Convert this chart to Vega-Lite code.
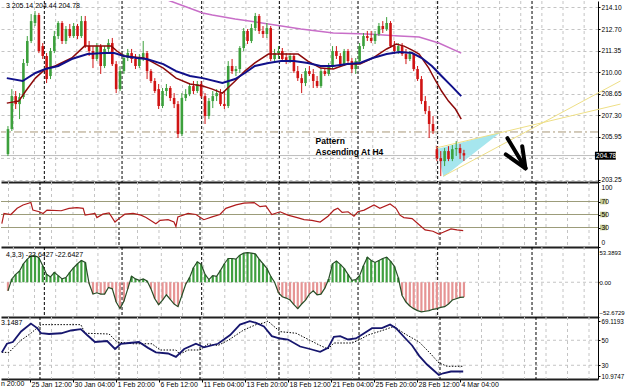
{
"$schema":"https://vega.github.io/schema/vega-lite/v6.json",
"padding":0,
"background":"white",
"spacing":0,
"bounds":"flush",
"config":{"view":{"stroke":null},"axis":{"labelFont":"Liberation Sans","labelFontSize":7,"labelColor":"#000","domainColor":"#000","tickColor":"#000","labelOverlap":false,"grid":false}},
"datasets":{
"vgrid":[{"i":1.40},{"i":6.87},{"i":12.34},{"i":17.81},{"i":23.28},{"i":28.75},{"i":34.22},{"i":39.69},{"i":45.17},{"i":50.64},{"i":56.11},{"i":61.58},{"i":67.05},{"i":72.52},{"i":77.99},{"i":83.46},{"i":88.93},{"i":94.40},{"i":99.87},{"i":105.34},{"i":110.81},{"i":116.28},{"i":121.76},{"i":127.23},{"i":132.70},{"i":138.17},{"i":143.64},{"i":149.11}],
"sep":[{"i":9.41},{"i":29.52},{"i":50.13},{"i":70.23},{"i":90.59},{"i":111.2},{"i":135.62}],
"bars":[
{"i":0,"o":204.87,"h":206.63,"l":204.75,"c":206.44,"osc":-13},
{"i":1,"o":206.44,"h":208.95,"l":206.32,"c":208.51,"osc":5},
{"i":2,"o":208.51,"h":208.83,"l":207.70,"c":208.01,"osc":12},
{"i":3,"o":208.01,"h":208.70,"l":207.07,"c":208.45,"osc":17},
{"i":4,"o":208.45,"h":210.84,"l":208.33,"c":210.59,"osc":28},
{"i":5,"o":210.59,"h":212.28,"l":210.40,"c":211.97,"osc":35},
{"i":6,"o":211.97,"h":213.66,"l":211.84,"c":213.22,"osc":40},
{"i":7,"o":213.10,"h":213.85,"l":212.91,"c":213.60,"osc":40},
{"i":8,"o":213.60,"h":213.73,"l":211.21,"c":211.34,"osc":37},
{"i":9,"o":211.65,"h":211.84,"l":210.84,"c":211.03,"osc":25},
{"i":10,"o":211.03,"h":211.21,"l":209.33,"c":209.58,"osc":12},
{"i":11,"o":209.77,"h":211.53,"l":209.58,"c":211.34,"osc":8},
{"i":12,"o":211.34,"h":212.60,"l":211.21,"c":212.28,"osc":15},
{"i":13,"o":212.28,"h":213.22,"l":212.09,"c":213.10,"osc":10},
{"i":14,"o":213.10,"h":213.22,"l":211.78,"c":211.97,"osc":5},
{"i":15,"o":211.97,"h":212.91,"l":211.78,"c":212.72,"osc":7},
{"i":16,"o":212.72,"h":213.04,"l":212.16,"c":212.28,"osc":15},
{"i":17,"o":212.28,"h":213.10,"l":212.16,"c":212.91,"osc":22},
{"i":18,"o":212.91,"h":213.04,"l":212.09,"c":212.28,"osc":28},
{"i":19,"o":212.28,"h":213.54,"l":212.16,"c":213.22,"osc":33},
{"i":20,"o":213.22,"h":213.54,"l":211.53,"c":211.65,"osc":30},
{"i":21,"o":211.65,"h":211.97,"l":211.03,"c":211.34,"osc":-2},
{"i":22,"o":211.34,"h":211.65,"l":210.27,"c":210.84,"osc":-18},
{"i":23,"o":210.84,"h":211.84,"l":210.71,"c":211.65,"osc":-16},
{"i":24,"o":211.65,"h":211.78,"l":209.90,"c":210.40,"osc":-18},
{"i":25,"o":210.40,"h":211.65,"l":210.27,"c":211.47,"osc":-18},
{"i":26,"o":211.47,"h":212.09,"l":211.21,"c":211.84,"osc":-8},
{"i":27,"o":211.84,"h":212.16,"l":210.40,"c":210.52,"osc":-10},
{"i":28,"o":210.52,"h":210.71,"l":208.70,"c":208.95,"osc":-30},
{"i":29,"o":208.95,"h":210.40,"l":208.83,"c":210.08,"osc":-40},
{"i":30,"o":210.08,"h":211.15,"l":209.90,"c":210.90,"osc":-29},
{"i":31,"o":210.90,"h":211.47,"l":210.71,"c":211.21,"osc":-10},
{"i":32,"o":211.21,"h":211.47,"l":210.59,"c":210.84,"osc":9},
{"i":33,"o":210.84,"h":211.15,"l":210.21,"c":210.40,"osc":5},
{"i":34,"o":210.40,"h":211.15,"l":210.27,"c":210.90,"osc":3},
{"i":35,"o":210.90,"h":211.97,"l":210.71,"c":211.21,"osc":5},
{"i":36,"o":211.21,"h":211.34,"l":209.58,"c":210.08,"osc":2},
{"i":37,"o":210.08,"h":210.21,"l":209.33,"c":209.46,"osc":-10},
{"i":38,"o":209.46,"h":209.64,"l":208.70,"c":208.83,"osc":-25},
{"i":39,"o":208.95,"h":209.27,"l":207.70,"c":207.89,"osc":-34},
{"i":40,"o":207.89,"h":209.02,"l":207.76,"c":208.83,"osc":-27},
{"i":41,"o":208.83,"h":209.27,"l":208.51,"c":209.02,"osc":-19},
{"i":42,"o":209.02,"h":209.14,"l":208.20,"c":208.39,"osc":-26},
{"i":43,"o":208.39,"h":208.70,"l":207.76,"c":208.01,"osc":-33},
{"i":44,"o":208.01,"h":208.20,"l":205.88,"c":206.13,"osc":-37},
{"i":45,"o":206.13,"h":208.70,"l":206.00,"c":208.39,"osc":-20},
{"i":46,"o":208.39,"h":208.95,"l":208.20,"c":208.64,"osc":-3},
{"i":47,"o":208.64,"h":209.27,"l":208.51,"c":209.14,"osc":7},
{"i":48,"o":209.14,"h":209.46,"l":208.64,"c":208.83,"osc":22},
{"i":49,"o":208.83,"h":209.46,"l":208.70,"c":209.27,"osc":31},
{"i":50,"o":209.27,"h":209.46,"l":208.39,"c":208.51,"osc":27},
{"i":51,"o":208.51,"h":208.70,"l":206.76,"c":207.26,"osc":12},
{"i":52,"o":207.26,"h":208.39,"l":207.07,"c":208.20,"osc":4},
{"i":53,"o":208.20,"h":208.83,"l":207.76,"c":208.51,"osc":10},
{"i":54,"o":208.51,"h":208.95,"l":208.20,"c":208.70,"osc":9},
{"i":55,"o":208.70,"h":208.95,"l":207.89,"c":208.01,"osc":18},
{"i":56,"o":208.01,"h":208.83,"l":207.70,"c":207.89,"osc":28},
{"i":57,"o":207.89,"h":210.71,"l":207.76,"c":210.40,"osc":36},
{"i":58,"o":210.40,"h":210.84,"l":209.90,"c":210.08,"osc":36},
{"i":59,"o":210.08,"h":210.40,"l":209.77,"c":210.21,"osc":35},
{"i":60,"o":210.21,"h":211.65,"l":209.96,"c":211.53,"osc":41},
{"i":61,"o":211.53,"h":212.78,"l":211.34,"c":212.60,"osc":44},
{"i":62,"o":212.60,"h":212.72,"l":211.78,"c":211.97,"osc":45},
{"i":63,"o":211.97,"h":213.04,"l":211.84,"c":212.78,"osc":44},
{"i":64,"o":212.78,"h":213.73,"l":212.60,"c":213.54,"osc":43},
{"i":65,"o":213.54,"h":213.66,"l":212.41,"c":212.60,"osc":35},
{"i":66,"o":212.60,"h":212.91,"l":212.16,"c":212.41,"osc":28},
{"i":67,"o":212.41,"h":213.10,"l":212.16,"c":212.78,"osc":21},
{"i":68,"o":212.78,"h":212.91,"l":210.71,"c":210.84,"osc":9},
{"i":69,"o":210.84,"h":211.47,"l":210.71,"c":211.21,"osc":0},
{"i":70,"o":211.21,"h":211.65,"l":210.84,"c":211.34,"osc":-16},
{"i":71,"o":211.34,"h":211.53,"l":210.71,"c":210.84,"osc":-22},
{"i":72,"o":210.95,"h":211.21,"l":210.52,"c":210.71,"osc":-24},
{"i":73,"o":210.71,"h":211.21,"l":210.59,"c":211.03,"osc":-27},
{"i":74,"o":211.03,"h":211.15,"l":209.96,"c":210.08,"osc":-34},
{"i":75,"o":210.08,"h":210.40,"l":209.46,"c":209.64,"osc":-40},
{"i":76,"o":209.64,"h":209.90,"l":208.70,"c":209.33,"osc":-33},
{"i":77,"o":209.33,"h":210.27,"l":209.14,"c":210.08,"osc":-27},
{"i":78,"o":210.08,"h":210.40,"l":209.77,"c":209.90,"osc":-18},
{"i":79,"o":209.90,"h":210.21,"l":209.02,"c":209.46,"osc":-13},
{"i":80,"o":209.46,"h":209.77,"l":209.02,"c":209.14,"osc":-19},
{"i":81,"o":209.14,"h":210.27,"l":209.02,"c":210.08,"osc":-18},
{"i":82,"o":210.08,"h":210.27,"l":209.77,"c":209.90,"osc":-9},
{"i":83,"o":209.90,"h":210.59,"l":209.77,"c":210.40,"osc":5},
{"i":84,"o":210.40,"h":211.65,"l":210.21,"c":211.34,"osc":28},
{"i":85,"o":211.34,"h":211.65,"l":210.84,"c":211.03,"osc":32},
{"i":86,"o":211.03,"h":211.21,"l":210.40,"c":210.52,"osc":27},
{"i":87,"o":210.52,"h":211.47,"l":210.40,"c":211.34,"osc":21},
{"i":88,"o":211.34,"h":211.47,"l":210.52,"c":210.71,"osc":12},
{"i":89,"o":210.71,"h":210.90,"l":209.96,"c":210.21,"osc":3},
{"i":90,"o":210.21,"h":210.90,"l":209.90,"c":210.71,"osc":4},
{"i":91,"o":210.71,"h":211.84,"l":210.59,"c":211.65,"osc":10},
{"i":92,"o":211.65,"h":212.47,"l":211.47,"c":212.28,"osc":25},
{"i":93,"o":212.28,"h":212.60,"l":211.97,"c":212.16,"osc":38},
{"i":94,"o":212.16,"h":212.60,"l":211.84,"c":211.97,"osc":33},
{"i":95,"o":211.97,"h":212.60,"l":211.78,"c":212.41,"osc":30},
{"i":96,"o":212.41,"h":213.10,"l":212.28,"c":212.91,"osc":33},
{"i":97,"o":212.91,"h":213.22,"l":212.47,"c":212.72,"osc":36},
{"i":98,"o":212.72,"h":213.47,"l":212.60,"c":213.10,"osc":38},
{"i":99,"o":213.10,"h":213.22,"l":211.53,"c":211.65,"osc":32},
{"i":100,"o":211.65,"h":211.97,"l":211.15,"c":211.34,"osc":24},
{"i":101,"o":211.34,"h":211.84,"l":211.15,"c":211.65,"osc":7},
{"i":102,"o":211.65,"h":211.84,"l":211.03,"c":211.15,"osc":-20},
{"i":103,"o":211.15,"h":211.47,"l":210.52,"c":210.84,"osc":-30},
{"i":104,"o":210.84,"h":211.34,"l":210.71,"c":211.15,"osc":-36},
{"i":105,"o":211.15,"h":211.21,"l":210.08,"c":210.21,"osc":-40},
{"i":106,"o":210.21,"h":210.40,"l":209.46,"c":209.58,"osc":-43},
{"i":107,"o":209.58,"h":209.77,"l":208.01,"c":208.20,"osc":-45},
{"i":108,"o":208.20,"h":208.51,"l":207.38,"c":207.57,"osc":-44},
{"i":109,"o":207.57,"h":207.89,"l":205.88,"c":206.76,"osc":-43},
{"i":110,"o":206.76,"h":207.26,"l":206.13,"c":206.32,"osc":-41},
{"i":111,"o":205.18,"h":205.37,"l":204.43,"c":204.62,"osc":-40},
{"i":112,"o":204.62,"h":205.06,"l":203.49,"c":204.43,"osc":-38},
{"i":113,"o":204.43,"h":205.25,"l":204.12,"c":205.06,"osc":-37},
{"i":114,"o":205.06,"h":205.37,"l":204.43,"c":204.56,"osc":-33},
{"i":115,"o":204.56,"h":205.44,"l":204.43,"c":205.18,"osc":-27},
{"i":116,"o":205.18,"h":205.69,"l":204.75,"c":205.25,"osc":-25},
{"i":117,"o":205.25,"h":205.50,"l":204.56,"c":204.93,"osc":-23},
{"i":118,"o":204.93,"h":205.14,"l":204.44,"c":204.78,"osc":-22.6427}
],
"ma1":[{"i":-0.3,"p":208.07},{"i":2.8,"p":208.20},{"i":4.6,"p":208.83},{"i":7.1,"p":209.64},{"i":9.7,"p":210.21},{"i":12.2,"p":210.40},{"i":16.5,"p":210.90},{"i":19.8,"p":211.65},{"i":23.2,"p":211.65},{"i":26.7,"p":211.65},{"i":28.2,"p":211.34},{"i":30,"p":211.03},{"i":35.1,"p":210.90},{"i":36.9,"p":210.71},{"i":40.2,"p":210.27},{"i":43.5,"p":209.64},{"i":47.1,"p":209.27},{"i":50.4,"p":209.14},{"i":52.9,"p":208.95},{"i":55.5,"p":208.70},{"i":58.8,"p":209.46},{"i":61.3,"p":210.08},{"i":63.9,"p":210.59},{"i":67.4,"p":211.15},{"i":70,"p":211.15},{"i":72.5,"p":211.15},{"i":75.1,"p":211.15},{"i":77.6,"p":210.71},{"i":80.9,"p":210.27},{"i":84.2,"p":210.21},{"i":87.8,"p":210.52},{"i":91.1,"p":210.52},{"i":94.4,"p":210.90},{"i":98,"p":211.47},{"i":100.5,"p":211.78},{"i":102.5,"p":211.65},{"i":104.6,"p":211.40},{"i":106.4,"p":211.15},{"i":108.9,"p":210.27},{"i":110.7,"p":209.46},{"i":112.2,"p":208.83},{"i":114,"p":208.20},{"i":115.8,"p":207.70},{"i":117.3,"p":207.07}],
"ma2":[{"i":-0.3,"p":209.64},{"i":3.8,"p":209.46},{"i":7.1,"p":209.96},{"i":9.7,"p":210.21},{"i":13,"p":210.40},{"i":16.5,"p":210.84},{"i":20.6,"p":211.15},{"i":24.9,"p":211.21},{"i":27.5,"p":211.21},{"i":30,"p":211.03},{"i":33.3,"p":210.90},{"i":35.9,"p":210.84},{"i":40.2,"p":210.52},{"i":43.5,"p":210.08},{"i":47.1,"p":209.77},{"i":50.4,"p":209.64},{"i":55.5,"p":209.33},{"i":58.8,"p":209.58},{"i":61.3,"p":209.96},{"i":63.9,"p":210.40},{"i":67.4,"p":210.59},{"i":70.7,"p":210.71},{"i":74,"p":210.71},{"i":77.6,"p":210.59},{"i":80.9,"p":210.40},{"i":84.2,"p":210.40},{"i":87.8,"p":210.52},{"i":91.1,"p":210.59},{"i":94.4,"p":210.90},{"i":98,"p":211.15},{"i":101.3,"p":211.28},{"i":104.6,"p":211.21},{"i":107.1,"p":210.90},{"i":109.7,"p":210.40},{"i":112.2,"p":209.77},{"i":114.8,"p":209.14},{"i":117.3,"p":208.51}],
"ma3":[{"i":37.7,"p":214.86},{"i":42,"p":214.48},{"i":50.4,"p":213.73},{"i":52.9,"p":213.60},{"i":58.8,"p":213.35},{"i":67.4,"p":213.04},{"i":75.8,"p":212.72},{"i":84.2,"p":212.47},{"i":92.9,"p":212.41},{"i":101.3,"p":212.28},{"i":106.4,"p":212.22},{"i":111.5,"p":211.84},{"i":117.3,"p":211.21}],
"tri":[{"i":110.95,"t":205.19,"b":205.19},{"i":112.7,"t":205.30,"b":203.43},{"i":127.5,"t":206.25,"b":206.25}],
"trend":[{"s":"A","i":110.7,"p":205.25},{"s":"A","i":158.5,"p":208.01},{"s":"B","i":112.7,"p":203.49},{"s":"B","i":158.5,"p":209.46}],
"arrow":[{"s":"a","i":129.26,"p":205.87},{"s":"a","i":133.92,"p":203.98},{"s":"b","i":133.08,"p":205.37},{"s":"b","i":133.92,"p":203.98},{"s":"c","i":128.83,"p":204.85},{"s":"c","i":133.92,"p":203.98}],
"notes":[{"i":79.6,"p":205.69,"t":"Pattern"},{"i":79.6,"p":204.99,"t":"Ascending At H4"}],
"rsi":[{"i":-0.3,"v":35.8},{"i":0.25,"v":51.6},{"i":2,"v":50},{"i":3.6,"v":59.5},{"i":5.1,"v":64.7},{"i":7.1,"v":68.4},{"i":7.6,"v":56.8},{"i":9.2,"v":54.2},{"i":10.2,"v":51.6},{"i":11.2,"v":56.8},{"i":14.8,"v":55.8},{"i":16.8,"v":59.5},{"i":18.8,"v":60.5},{"i":20.4,"v":59.5},{"i":20.9,"v":49},{"i":23.4,"v":51.6},{"i":23.9,"v":45.3},{"i":25.4,"v":50.5},{"i":27,"v":52.6},{"i":28.5,"v":38.4},{"i":29.5,"v":43.7},{"i":31,"v":50.5},{"i":33.1,"v":51.6},{"i":35.1,"v":49},{"i":36.4,"v":45.3},{"i":38.9,"v":35.8},{"i":40,"v":41},{"i":42,"v":42},{"i":43.5,"v":38.4},{"i":44,"v":31.6},{"i":44.5,"v":46.3},{"i":47.1,"v":51.6},{"i":49.1,"v":50},{"i":51.1,"v":42},{"i":53.2,"v":46.3},{"i":55.2,"v":50},{"i":56.7,"v":59.5},{"i":59.3,"v":64.7},{"i":61.3,"v":67.4},{"i":63.9,"v":68.4},{"i":65.4,"v":62.1},{"i":66.9,"v":63.1},{"i":68.4,"v":50},{"i":70.5,"v":54.2},{"i":72.5,"v":49},{"i":75.1,"v":44.7},{"i":76.6,"v":42},{"i":78.6,"v":41},{"i":80.7,"v":38.4},{"i":82.7,"v":47.4},{"i":84.2,"v":56.8},{"i":85.2,"v":59.5},{"i":86.3,"v":53.2},{"i":87.8,"v":54.2},{"i":89.3,"v":47.4},{"i":90.3,"v":54.2},{"i":91.9,"v":56.8},{"i":94.4,"v":64.7},{"i":95.9,"v":59.5},{"i":98.5,"v":66.3},{"i":100,"v":59.5},{"i":101,"v":49},{"i":102,"v":45.3},{"i":104.1,"v":43.7},{"i":105.6,"v":35.8},{"i":107.4,"v":26.3},{"i":109.4,"v":24.2},{"i":110.9,"v":20},{"i":112,"v":22.6},{"i":114,"v":27.9},{"i":115.5,"v":26.3},{"i":117.1,"v":25.3}],
"levels":[{"v":70},{"v":50},{"v":30}],
"stoch":[{"i":-0.3,"v":40.3},{"i":1,"v":47.2},{"i":2.5,"v":48.6},{"i":4.6,"v":57},{"i":7.1,"v":63.3},{"i":8.7,"v":59.7},{"i":9.7,"v":55.6},{"i":11.7,"v":55},{"i":14.8,"v":55.6},{"i":17.3,"v":57.8},{"i":19.8,"v":58.9},{"i":21.4,"v":54.2},{"i":23.4,"v":48.6},{"i":26.5,"v":49.4},{"i":28.5,"v":43},{"i":30,"v":47.2},{"i":32.1,"v":47.8},{"i":34.6,"v":48.6},{"i":36.9,"v":43.9},{"i":38.9,"v":40.3},{"i":42,"v":39.4},{"i":44,"v":36.7},{"i":46.1,"v":43},{"i":49.1,"v":47.2},{"i":51.1,"v":44.4},{"i":54.7,"v":47.2},{"i":57.8,"v":54.2},{"i":60.3,"v":62.5},{"i":62.8,"v":65.3},{"i":64.4,"v":63.9},{"i":66.4,"v":61.1},{"i":68.4,"v":53.3},{"i":70.5,"v":51.4},{"i":72.5,"v":50.6},{"i":75.6,"v":45},{"i":78.1,"v":43},{"i":80.7,"v":40.8},{"i":82.7,"v":43.9},{"i":84.2,"v":52.8},{"i":85.8,"v":53.3},{"i":87.8,"v":50.6},{"i":89.8,"v":51.4},{"i":91.9,"v":55.6},{"i":93.9,"v":59.7},{"i":96.4,"v":59.7},{"i":98.5,"v":62.5},{"i":100,"v":59.7},{"i":102,"v":52.8},{"i":104.1,"v":45.8},{"i":105.9,"v":37.5},{"i":107.9,"v":30.6},{"i":109.9,"v":25},{"i":110.9,"v":22.2},{"i":112,"v":23.6},{"i":114,"v":25},{"i":117.1,"v":25}],
"signal":[{"i":-0.3,"v":40.3},{"i":1.5,"v":40.3},{"i":4.6,"v":50},{"i":7.1,"v":55.6},{"i":9.7,"v":62.5},{"i":19.8,"v":62.5},{"i":20.9,"v":55.6},{"i":27,"v":55},{"i":29,"v":48.6},{"i":33.1,"v":47.2},{"i":37.9,"v":47.2},{"i":40,"v":42.2},{"i":44,"v":42.2},{"i":45,"v":38.9},{"i":47.1,"v":42.2},{"i":50.1,"v":42.2},{"i":52.2,"v":47.2},{"i":54.7,"v":45.8},{"i":57.3,"v":50},{"i":61.3,"v":58.3},{"i":64.4,"v":62.5},{"i":66.4,"v":63.9},{"i":67.4,"v":65.3},{"i":70.5,"v":56.9},{"i":74.6,"v":55.6},{"i":80.7,"v":45.8},{"i":82.7,"v":43},{"i":84.2,"v":47.8},{"i":88.8,"v":47.8},{"i":90.8,"v":50.6},{"i":92.9,"v":54.2},{"i":97,"v":58.3},{"i":99.5,"v":61.1},{"i":102,"v":55.6},{"i":105.9,"v":48.6},{"i":108.9,"v":38.9},{"i":110.9,"v":31.9},{"i":113,"v":29.2},{"i":117.1,"v":29.2}],
"slev":[{"v":50},{"v":30}]
},
"vconcat":[
{"width":597,"height":181,
"layer":[
{"data":{"name":"vgrid"},"mark":{"type":"rule","color":"#c4c4c4","strokeDash":[3,3],"strokeWidth":1},"encoding":{"x":{"field":"i","type":"quantitative","scale":{"domain":[-0.509,151.4],"nice":false,"zero":false},"axis":{"title":null,"labels":false,"ticks":false,"domain":true,"domainWidth":2,"domainColor":"#202020"}}}},
{"data":{"name":"sep"},"mark":{"type":"rule","color":"#000","strokeDash":[3,2],"strokeWidth":1},"encoding":{"x":{"field":"i","type":"quantitative"}}},
{"data":{"values":[{}]},"mark":{"type":"rule","color":"#a89878","strokeDash":[8,3,2,3],"strokeWidth":1},"encoding":{"y":{"datum":206.26,"type":"quantitative","scale":{"domain":[203.12,214.48],"nice":false,"zero":false},"axis":{"title":null,"orient":"right","values":[203.25,205.95,207.3,208.65,210,211.35,212.7,214.1],"tickCount":30,"format":".2f","labelOverlap":false,"labelFontSize":6.6,"grid":true,"gridDash":[3,3],"gridColor":"#c4c4c4","domain":true,"domainWidth":1,"ticks":true,"tickSize":2,"labelPadding":1}}}},
{"data":{"values":[{}]},"mark":{"type":"rule","color":"#c4c4c4","strokeDash":[3,3],"strokeWidth":1},"encoding":{"y":{"datum":204.6,"type":"quantitative"}}},
{"data":{"values":[{}]},"mark":{"type":"rule","color":"#bdbdbd","strokeWidth":1},"encoding":{"y":{"datum":204.78,"type":"quantitative"}}},
{"data":{"name":"ma3"},"mark":{"type":"line","color":"#c86ec8","strokeWidth":1.5,"clip":true},"encoding":{"x":{"field":"i","type":"quantitative"},"y":{"field":"p","type":"quantitative"}}},
{"data":{"name":"tri"},"mark":{"type":"area","color":"#a6e6ee","opacity":1},"encoding":{"x":{"field":"i","type":"quantitative"},"y":{"field":"t","type":"quantitative"},"y2":{"field":"b"}}},
{"data":{"name":"trend"},"mark":{"type":"line","color":"#eedf86","strokeWidth":1},"encoding":{"x":{"field":"i","type":"quantitative"},"y":{"field":"p","type":"quantitative"},"detail":{"field":"s"}}},
{"data":{"name":"bars"},"mark":{"type":"rule","strokeWidth":1},"encoding":{"x":{"field":"i","type":"quantitative"},"y":{"field":"l","type":"quantitative"},"y2":{"field":"h"},"color":{"condition":{"test":"datum.c >= datum.o","value":"#3ca03c"},"value":"#d01414"}}},
{"data":{"name":"bars"},"mark":{"type":"bar","size":2.6},"encoding":{"x":{"field":"i","type":"quantitative"},"y":{"field":"o","type":"quantitative"},"y2":{"field":"c"},"color":{"condition":{"test":"datum.c >= datum.o","value":"#3ca03c"},"value":"#d01414"}}},
{"data":{"name":"ma1"},"mark":{"type":"line","color":"#8c0a0a","strokeWidth":1.5,"clip":true},"encoding":{"x":{"field":"i","type":"quantitative"},"y":{"field":"p","type":"quantitative"}}},
{"data":{"name":"ma2"},"mark":{"type":"line","color":"#10108a","strokeWidth":2,"clip":true},"encoding":{"x":{"field":"i","type":"quantitative"},"y":{"field":"p","type":"quantitative"}}},
{"data":{"name":"arrow"},"mark":{"type":"line","color":"#000","strokeWidth":4,"strokeCap":"round"},"encoding":{"x":{"field":"i","type":"quantitative"},"y":{"field":"p","type":"quantitative"},"detail":{"field":"s"}}},
{"data":{"name":"notes"},"mark":{"type":"text","align":"left","baseline":"middle","font":"Liberation Sans","fontSize":8.5,"fontWeight":"bold","fill":"#000"},"encoding":{"x":{"field":"i","type":"quantitative"},"y":{"field":"p","type":"quantitative"},"text":{"field":"t"}}},
{"data":{"values":[{}]},"mark":{"type":"text","align":"left","baseline":"top","dy":1,"font":"Liberation Sans","fontSize":7,"fill":"#000"},"encoding":{"x":{"datum":-0.509,"type":"quantitative"},"y":{"datum":214.48,"type":"quantitative"},"text":{"value":"3 205.14 204.44 204.78"}}},
{"data":{"values":[{}]},"mark":{"type":"rect","fill":"#000"},"encoding":{"x":{"datum":151.9,"type":"quantitative"},"x2":{"datum":157.3},"y":{"datum":205.02,"type":"quantitative"},"y2":{"datum":204.52}}},
{"data":{"values":[{}]},"mark":{"type":"text","align":"left","baseline":"middle","font":"Liberation Sans","fontSize":6.6,"fill":"#fff"},"encoding":{"x":{"datum":152.2,"type":"quantitative"},"y":{"datum":204.78,"type":"quantitative"},"text":{"value":"204.78"}}}
]},
{"width":597,"height":65,
"layer":[
{"data":{"name":"vgrid"},"mark":{"type":"rule","color":"#c4c4c4","strokeDash":[3,3],"strokeWidth":1},"encoding":{"x":{"field":"i","type":"quantitative","scale":{"domain":[-0.509,151.4],"nice":false,"zero":false},"axis":{"title":null,"labels":false,"ticks":false,"domain":true,"domainWidth":2,"domainColor":"#202020"}}}},
{"data":{"name":"sep"},"mark":{"type":"rule","color":"#000","strokeDash":[3,2],"strokeWidth":1},"encoding":{"x":{"field":"i","type":"quantitative"}}},
{"data":{"name":"levels"},"mark":{"type":"rule","color":"#9c9c7a","strokeWidth":1},"encoding":{"y":{"field":"v","type":"quantitative","scale":{"domain":[0,100],"nice":false,"zero":false},"axis":{"title":null,"orient":"right","values":[0,30,50,70,100],"tickCount":30,"labelOverlap":false,"labelFontSize":6.6,"labelFlush":true,"labelFlushOffset":-2,"tickSize":2,"labelPadding":1,"zindex":1}}}},
{"data":{"name":"levels"},"mark":{"type":"point","shape":"M-1,-0.8L1,-0.8L1,0.8L-1,0.8Z","size":49,"filled":true,"color":"#c4cc98","opacity":1},"encoding":{"x":{"datum":152.8,"type":"quantitative"},"y":{"field":"v","type":"quantitative"}}},
{"data":{"name":"rsi"},"mark":{"type":"line","color":"#b01c1c","strokeWidth":1.2,"clip":true},"encoding":{"x":{"field":"i","type":"quantitative"},"y":{"field":"v","type":"quantitative"}}}
]},
{"width":597,"height":70,
"layer":[
{"data":{"name":"vgrid"},"mark":{"type":"rule","color":"#c4c4c4","strokeDash":[3,3],"strokeWidth":1},"encoding":{"x":{"field":"i","type":"quantitative","scale":{"domain":[-0.509,151.4],"nice":false,"zero":false},"axis":{"title":null,"labels":false,"ticks":false,"domain":true,"domainWidth":2,"domainColor":"#202020"}}}},
{"data":{"name":"sep"},"mark":{"type":"rule","color":"#000","strokeDash":[3,2],"strokeWidth":1},"encoding":{"x":{"field":"i","type":"quantitative"}}},
{"data":{"values":[{}]},"mark":{"type":"rule","color":"#c4c4c4","strokeDash":[3,3],"strokeWidth":1},"encoding":{"y":{"datum":0,"type":"quantitative","scale":{"domain":[-52.6729,53.3893],"nice":false,"zero":false},"axis":{"title":null,"orient":"right","values":[-52.6729,0,53.3893],"tickCount":30,"labelExpr":"datum.value == 0 ? '0.00' : format(datum.value, '.4f')","labelOverlap":false,"labelFontSize":6,"labelFlush":true,"labelFlushOffset":-2,"tickSize":1,"labelPadding":0}}}},
{"data":{"name":"bars"},"mark":{"type":"bar","size":2.2},"encoding":{"x":{"field":"i","type":"quantitative"},"y":{"field":"osc","type":"quantitative"},"y2":{"datum":0},"color":{"condition":{"test":"datum.osc >= 0","value":"#3f9f3f"},"value":"#e69494"}}},
{"data":{"name":"bars"},"mark":{"type":"line","color":"#274e27","strokeWidth":1.2},"encoding":{"x":{"field":"i","type":"quantitative"},"y":{"field":"osc","type":"quantitative"}}},
{"data":{"values":[{}]},"mark":{"type":"text","align":"left","baseline":"top","dy":4,"font":"Liberation Sans","fontSize":7,"fill":"#000"},"encoding":{"x":{"datum":-0.509,"type":"quantitative"},"y":{"datum":53.3893,"type":"quantitative"},"text":{"value":"4,3,3) -22.6427 -22.6427"}}}
]},
{"width":597,"height":62,
"layer":[
{"data":{"name":"vgrid"},"mark":{"type":"rule","color":"#c4c4c4","strokeDash":[3,3],"strokeWidth":1},"encoding":{"x":{"field":"i","type":"quantitative","scale":{"domain":[-0.509,151.4],"nice":false,"zero":false},"axis":{"title":null,"values":[6.87,17.81,28.75,39.69,50.64,61.58,72.52,83.46,94.4,105.34,116.28],"tickCount":30,"labelExpr":"['25 Jan 12:00','30 Jan 04:00','1 Feb 20:00','6 Feb 12:00','11 Feb 04:00','13 Feb 20:00','18 Feb 12:00','21 Feb 04:00','25 Feb 20:00','28 Feb 12:00','4 Mar 04:00'][indexof([6.87,17.81,28.75,39.69,50.64,61.58,72.52,83.46,94.4,105.34,116.28], datum.value)]","labels":true,"labelOverlap":false,"labelAlign":"left","labelOffset":1,"labelPadding":-2,"ticks":true,"tickSize":3,"domain":true,"domainWidth":2,"domainColor":"#202020","labelFlush":false}}}},
{"data":{"name":"sep"},"mark":{"type":"rule","color":"#000","strokeDash":[3,2],"strokeWidth":1},"encoding":{"x":{"field":"i","type":"quantitative"}}},
{"data":{"name":"slev"},"mark":{"type":"rule","color":"#c4c4c4","strokeDash":[3,3],"strokeWidth":1},"encoding":{"y":{"field":"v","type":"quantitative","scale":{"domain":[19.0,68.6],"nice":false,"zero":false},"axis":{"title":null,"orient":"right","values":[65.4,50,30,21.4],"tickCount":30,"labelExpr":"datum.value > 60 ? '69.1193' : datum.value < 25 ? '10.9747' : format(datum.value, 'd')","labelOverlap":false,"labelFontSize":6.3,"tickSize":2,"labelPadding":1}}}},
{"data":{"name":"signal"},"mark":{"type":"line","color":"#000","strokeWidth":1,"strokeDash":[1.5,1.5],"clip":true},"encoding":{"x":{"field":"i","type":"quantitative"},"y":{"field":"v","type":"quantitative"}}},
{"data":{"name":"stoch"},"mark":{"type":"line","color":"#16166e","strokeWidth":1.8,"clip":true},"encoding":{"x":{"field":"i","type":"quantitative"},"y":{"field":"v","type":"quantitative"}}},
{"data":{"values":[{}]},"mark":{"type":"text","align":"left","baseline":"top","dy":2,"font":"Liberation Sans","fontSize":7,"fill":"#000"},"encoding":{"x":{"datum":-0.509,"type":"quantitative"},"y":{"datum":68.6,"type":"quantitative"},"text":{"value":"3.1487"}}},
{"data":{"values":[{}]},"mark":{"type":"text","align":"left","baseline":"top","dy":1,"font":"Liberation Sans","fontSize":7,"fill":"#000"},"encoding":{"x":{"datum":-0.509,"type":"quantitative"},"y":{"datum":19.0,"type":"quantitative"},"text":{"value":"n 20:00"}}}
]}
]
}
